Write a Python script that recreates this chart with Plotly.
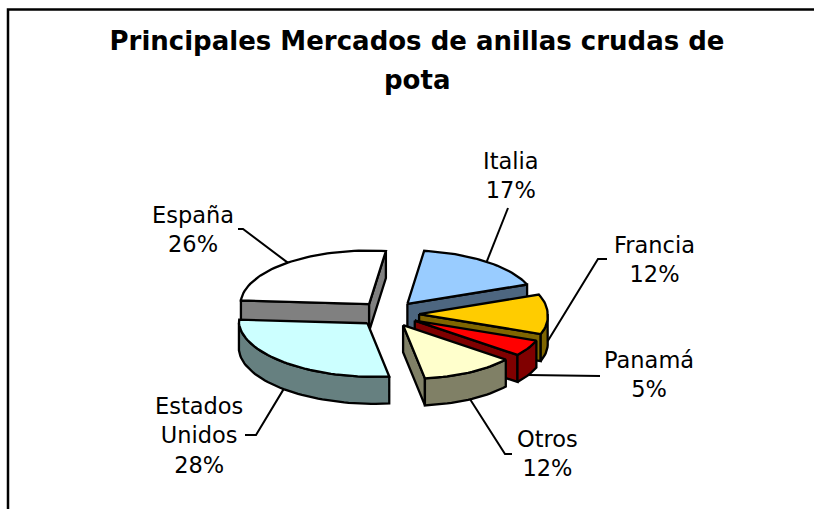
import math
import plotly.graph_objects as go

# ---- data ----
categories = ["Italia", "Francia", "Panamá", "Otros", "Estados Unidos", "España"]
label_names = ["Italia", "Francia", "Panamá", "Otros", "Estados<br>Unidos", "España"]
shares = [17, 12, 5, 12, 28, 26]
chart_title = ["Principales Mercados de anillas crudas de", "pota"]

# ---- style ----
top_colors = ["#99CCFF", "#FFCC00", "#FF0000", "#FFFFCC", "#CCFFFF", "#FFFFFF"]
side_colors = ["#4D6680", "#806600", "#800000", "#808066", "#668080", "#808080"]
paint_order = [5, 0, 1, 2, 3, 4]
label_xy = [(511, 175.5), (654, 259.5), (649, 374.5), (547, 453), (199, 435), (193, 229.5)]
leaders = [
    [(508, 208), None],
    [(607, 259), (598, 259), None],
    [(600, 376), None],
    [(512, 454), (505, 454), None],
    [(245, 435), (256, 435), None],
    [(238, 229), (243, 229), None],
]
LABEL_FONT = "DejaVu Sans"

# ---- projection of the exploded 3-D pie ----
CX, CY, R, K, EXPLODE, DEPTH, START, LEAN = 388.5, 314, 128.5, 0.417, 30.6, 27, 7.5, 0.05


def offset(theta, radius):
    t = math.radians(theta)
    front = max(0.0, -math.cos(t))
    return radius * (math.sin(t) + LEAN * front), -K * radius * math.cos(t)


def arc(ax, ay, a, b, dz=0):
    n = max(2, int(abs(b - a) / 2))
    pts = []
    for i in range(n + 1):
        dx, dy = offset(a + (b - a) * i / n, R)
        pts.append((ax + dx, ay + dy + dz))
    return pts


fig = go.Figure()


def poly(pts, color):
    fig.add_trace(go.Scatter(
        x=[p[0] for p in pts] + [pts[0][0]], y=[p[1] for p in pts] + [pts[0][1]],
        mode="lines", fill="toself", fillcolor=color,
        line=dict(color="black", width=2.3), hoverinfo="skip", showlegend=False))


angles = []
acc = START
for v in shares:
    angles.append((acc, acc + v * 3.6))
    acc += v * 3.6

apexes = []
for a, b in angles:
    dx, dy = math.sin(math.radians((a + b) / 2)), -K * math.cos(math.radians((a + b) / 2))
    apexes.append((CX + EXPLODE * dx, CY + EXPLODE * dy))

for i in paint_order:
    a, b = angles[i]
    ax, ay = apexes[i]
    side = side_colors[i]
    if math.sin(math.radians(a)) < 0:
        e = arc(ax, ay, a, a)[0]
        poly([(ax, ay), e, (e[0], e[1] + DEPTH), (ax, ay + DEPTH)], side)
    if math.sin(math.radians(b)) > 0:
        e = arc(ax, ay, b, b)[0]
        poly([(ax, ay), e, (e[0], e[1] + DEPTH), (ax, ay + DEPTH)], side)
    lo, hi = max(a, 90), min(b, 270)
    if hi > lo:
        poly(arc(ax, ay, lo, hi) + arc(ax, ay, hi, lo, DEPTH), side)
    poly([(ax, ay)] + arc(ax, ay, a, b), top_colors[i])

for i, path in enumerate(leaders):
    a, b = angles[i]
    mid = (a + b) / 2
    dx, dy = offset(mid, R)
    rim_dz = DEPTH if math.cos(math.radians(mid)) < 0 else 0
    end = (apexes[i][0] + dx, apexes[i][1] + dy + rim_dz)
    pts = [end if p is None else p for p in path]
    fig.add_trace(go.Scatter(x=[p[0] for p in pts], y=[p[1] for p in pts], mode="lines",
                             line=dict(color="black", width=2), hoverinfo="skip", showlegend=False))

fig.add_trace(go.Scatter(x=[8, 8, 814], y=[509, 9.5, 9.5], mode="lines",
                         line=dict(color="black", width=2.5), hoverinfo="skip", showlegend=False))

anns = [dict(x=label_xy[i][0], y=label_xy[i][1], xref="x", yref="y", showarrow=False,
             text=f"{label_names[i]}<br>{shares[i]}%", align="center",
             font=dict(family=LABEL_FONT, size=22.5, color="black"))
        for i in range(len(shares))]
anns.append(dict(x=417, y=80, xref="x", yref="y", showarrow=False, text=f"<b>{chart_title[1]}</b>",
                 font=dict(family=LABEL_FONT, size=26, color="black")))

fig.update_layout(
    width=814, height=509, margin=dict(l=0, r=0, t=0, b=0),
    paper_bgcolor="white", plot_bgcolor="white", showlegend=False,
    title=dict(text=f"<b>{chart_title[0]}</b>", x=417 / 814, xanchor="center", y=1 - 41 / 509, yanchor="middle",
               font=dict(family=LABEL_FONT, size=26, color="black")),
    xaxis=dict(range=[0, 814], visible=False, fixedrange=True),
    yaxis=dict(range=[509, 0], visible=False, fixedrange=True),
    annotations=anns,
)
fig.write_html("out.html", config=dict(displayModeBar=False),
               post_script="document.body.style.margin='0';document.body.style.overflow='hidden';")
